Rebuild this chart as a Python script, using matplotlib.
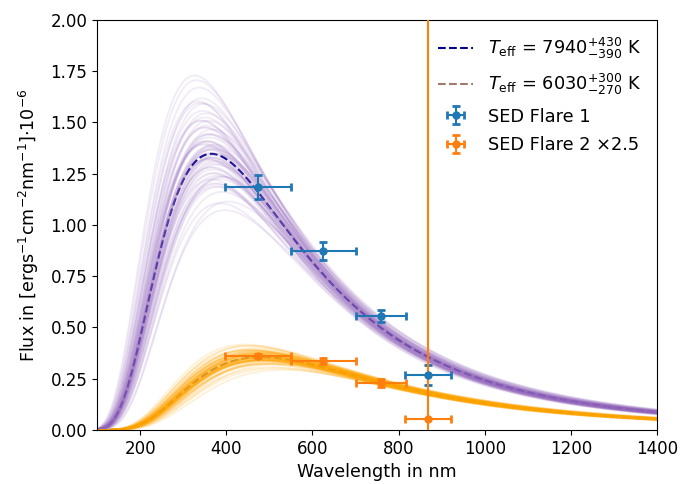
import numpy as np
import matplotlib
matplotlib.use('Agg')
import matplotlib.pyplot as plt

# SED points (flare 2 already multiplied by 2.5)
sed_wl = [474, 625, 759, 868]
sed_wl_err = [77, 75, 59, 53]
flare1_flux = [1.185, 0.873, 0.556, 0.268]
flare1_err = [0.06, 0.045, 0.03, 0.05]
flare2_flux = [0.361, 0.337, 0.229, 0.054]
flare2_err = [0.012, 0.015, 0.02, 2.6]

# posterior samples read off the spread of the thin curves: temperature and
# relative scaling of each blackbody
temps_flare1 = [7180, 7300, 7380, 7440, 7490, 7530, 7560, 7590, 7620, 7645,
                7670, 7690, 7710, 7730, 7750, 7765, 7780, 7795, 7810, 7825,
                7840, 7852, 7864, 7876, 7888, 7900, 7910, 7920, 7930, 7940,
                7950, 7960, 7970, 7980, 7992, 8004, 8016, 8028, 8040, 8055,
                8070, 8085, 8100, 8115, 8130, 8150, 8170, 8190, 8210, 8230,
                8255, 8280, 8305, 8330, 8360, 8390, 8420, 8460, 8500, 8550,
                8610, 8680, 8760, 8880]
scale_flare1 = [1.02, 0.95, 1.07, 0.99, 1.04, 0.92, 1.01, 0.97, 1.09, 1.00,
                0.96, 1.03, 0.94, 1.06, 0.98, 1.02, 1.08, 0.93, 1.00, 1.05,
                0.97, 1.01, 0.95, 1.04, 0.99, 1.10, 0.96, 1.02, 0.91, 1.03,
                1.00, 0.98, 1.06, 0.94, 1.01, 0.97, 1.05, 0.99, 1.03, 0.95,
                1.08, 0.96, 1.00, 1.02, 0.93, 1.04, 0.98, 1.07, 0.97, 1.01,
                0.95, 1.03, 0.99, 1.06, 0.92, 1.02, 0.98, 1.04, 0.96, 1.00,
                1.03, 0.97, 1.01, 0.99]
temps_flare2 = [5460, 5560, 5620, 5670, 5710, 5740, 5770, 5795, 5820, 5840,
                5860, 5878, 5895, 5910, 5925, 5940, 5952, 5964, 5976, 5988,
                6000, 6010, 6020, 6030, 6040, 6050, 6060, 6070, 6082, 6094,
                6106, 6118, 6130, 6145, 6160, 6175, 6190, 6205, 6220, 6240,
                6260, 6280, 6300, 6325, 6350, 6380, 6420, 6470, 6540, 5900,
                5990, 6080, 6150, 5850, 6010, 6110, 5960, 6200, 6040, 5930,
                6070, 6000, 6130, 6020]
scale_flare2 = [0.98, 1.04, 0.96, 1.06, 1.01, 0.94, 1.03, 0.99, 1.07, 0.97,
                1.02, 0.95, 1.05, 1.00, 0.93, 1.03, 0.98, 1.08, 0.96, 1.01,
                1.04, 0.97, 1.00, 1.06, 0.95, 1.02, 0.99, 1.05, 0.94, 1.01,
                0.97, 1.03, 1.00, 0.96, 1.04, 0.98, 1.07, 0.95, 1.02, 0.99,
                1.03, 0.97, 1.01, 0.94, 1.05, 0.98, 1.02, 0.96, 1.00, 1.04,
                0.97, 1.01, 0.95, 1.03, 0.99, 1.06, 0.98, 1.02, 0.96, 1.00,
                1.03, 0.97, 1.01, 0.99]
teff_flare1 = 7940
teff_flare2 = 6030
# flux of the best-fit blackbody at an anchor wavelength
anchor1 = (700, 0.60)
anchor2 = (800, 0.211)


def planck(wl_nm, T):
    x = 1.4388e7 / (wl_nm * T)
    return wl_nm ** -5.0 / np.expm1(x)


def bb_flux(wl, T, anchor, scale=1.0):
    wl0, f0 = anchor
    return scale * f0 * planck(wl, T) / planck(wl0, T)


wl = np.linspace(100, 1400, 600)

fig = plt.figure(figsize=(6.94, 4.84), dpi=100)
ax = fig.add_axes([0.14, 0.1116, 0.8067, 0.8471])

# best fits first, samples drawn on top of them
ax.plot(wl, bb_flux(wl, teff_flare1, anchor1), '--', color='darkblue', lw=1.5,
        label=r'$T_{\rm eff}$ = $7940^{+430}_{-390}$ K')
ax.plot(wl, bb_flux(wl, teff_flare2, anchor2), '--', color='tab:brown', lw=1.5,
        alpha=0.8, label=r'$T_{\rm eff}$ = $6030^{+300}_{-270}$ K')

for T, s in zip(temps_flare1, scale_flare1):
    ax.plot(wl, bb_flux(wl, T, anchor1, s), color='tab:purple', alpha=0.13, lw=1.3)
for T, s in zip(temps_flare2, scale_flare2):
    ax.plot(wl, bb_flux(wl, T, anchor2, s), color='orange', alpha=0.16, lw=1.3)

ax.errorbar(sed_wl, flare1_flux, xerr=sed_wl_err, yerr=flare1_err, fmt='o',
            color='tab:blue', ms=5, capsize=3, capthick=2, lw=1.5,
            label='SED Flare 1', zorder=5)
ax.errorbar(sed_wl, flare2_flux, xerr=sed_wl_err, yerr=flare2_err, fmt='o',
            color='tab:orange', ms=5, capsize=3, capthick=2, lw=1.5,
            label='SED Flare 2 ×2.5', zorder=5)

ax.set_xlim(100, 1400)
ax.set_ylim(0, 2)
ax.tick_params(labelsize=12)
ax.set_xlabel('Wavelength in nm', fontsize=12.6)
ax.set_ylabel(r'Flux in [ergs$^{-1}$cm$^{-2}$nm$^{-1}$]$\cdot 10^{-6}$',
              fontsize=12.6, labelpad=7)
ax.legend(loc='upper right', frameon=False, fontsize=12.8, labelspacing=0.6)

fig.savefig('out.png', dpi=100)
